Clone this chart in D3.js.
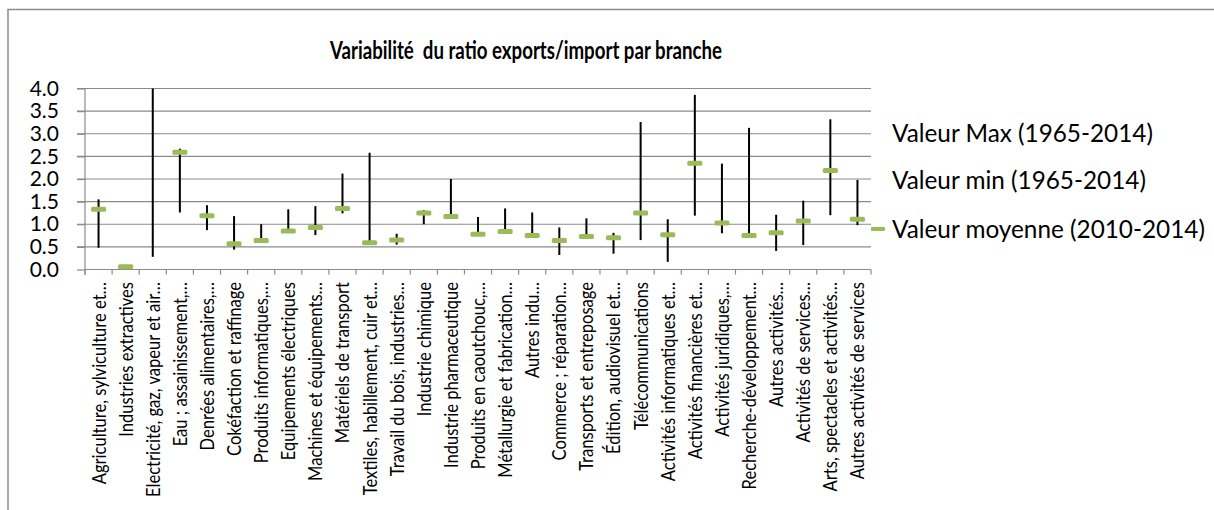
<!DOCTYPE html>
<html>
<head>
<meta charset="utf-8">
<script src="https://cdn.jsdelivr.net/npm/d3@7"></script>
<style>
  html, body { margin: 0; padding: 0; background: #ffffff; }
  svg { display: block; }
  text { font-family: Lato, "Open Sans", sans-serif; fill: #000; }
</style>
</head>
<body>
<svg id="chart" width="1214" height="510"></svg>
<script>
const categories = [
  "Agriculture, sylviculture et…",
  "Industries extractives",
  "Electricité, gaz, vapeur et air…",
  "Eau ; assainissement,…",
  "Denrées alimentaires,…",
  "Cokéfaction et raffinage",
  "Produits informatiques,…",
  "Equipements électriques",
  "Machines et équipements…",
  "Matériels de transport",
  "Textiles, habillement, cuir et…",
  "Travail du bois, industries…",
  "Industrie chimique",
  "Industrie pharmaceutique",
  "Produits en caoutchouc,…",
  "Métallurgie et fabrication…",
  "Autres indu…",
  "Commerce ; réparation…",
  "Transports et entreposage",
  "Édition, audiovisuel et…",
  "Télécommunications",
  "Activités informatiques et…",
  "Activités financières et…",
  "Activités juridiques,…",
  "Recherche-développement…",
  "Autres activités…",
  "Activités de services…",
  "Arts, spectacles et activités…",
  "Autres activités de services"
];
const maxVals  = [1.55, 0.08, 4.00, 2.67, 1.42, 1.18, 1.00, 1.33, 1.40, 2.12, 2.58, 0.79, 1.31, 2.00, 1.16, 1.35, 1.26, 0.93, 1.13, 0.81, 3.26, 1.11, 3.86, 2.34, 3.13, 1.21, 1.52, 3.32, 1.98];
const minVals  = [0.48, 0.04, 0.28, 1.26, 0.87, 0.44, 0.62, 0.84, 0.76, 1.24, 0.58, 0.55, 1.00, 1.15, 0.77, 0.82, 0.73, 0.32, 0.71, 0.35, 0.65, 0.17, 1.19, 0.80, 0.72, 0.41, 0.54, 1.20, 0.98];
const meanVals = [1.33, 0.06, null, 2.59, 1.19, 0.57, 0.64, 0.85, 0.93, 1.35, 0.59, 0.65, 1.25, 1.17, 0.78, 0.84, 0.75, 0.64, 0.73, 0.70, 1.25, 0.77, 2.35, 1.03, 0.75, 0.81, 1.07, 2.19, 1.11];
const yTicks = [0, 0.5, 1.0, 1.5, 2.0, 2.5, 3.0, 3.5, 4.0];
const legendLabels = ["Valeur Max (1965-2014)", "Valeur min (1965-2014)", "Valeur moyenne (2010-2014)"];
const titleText = "Variabilité  du ratio exports/import par branche";

const svg = d3.select("#chart");
const GREEN = "#9bbb59";
const GRID = "#8a8a8a";

// outer chart border
svg.append("rect")
  .attr("x", 8).attr("y", 9.5).attr("width", 1240).attr("height", 560)
  .attr("fill", "none").attr("stroke", "#8c8c8c").attr("stroke-width", 1.5);

const x = d3.scaleBand().domain(categories).range([85, 871]).paddingInner(0).paddingOuter(0);
const y = d3.scaleLinear().domain([0, 4]).range([269.5, 88.5]);

// gridlines
svg.append("g").selectAll("line").data(yTicks.filter(t => t > 0)).join("line")
  .attr("x1", 77).attr("x2", 871)
  .attr("y1", d => y(d)).attr("y2", d => y(d))
  .attr("stroke", GRID).attr("stroke-width", 1.2);

// y axis
const yAxis = svg.append("g").attr("transform", "translate(85,0)")
  .call(d3.axisLeft(y).tickValues(yTicks).tickFormat(d3.format(".1f")).tickSize(8).tickPadding(18));
yAxis.select(".domain").attr("stroke", GRID).attr("stroke-width", 1.2).attr("d", "M0,88.5V275");
yAxis.selectAll(".tick line").attr("stroke", GRID).attr("stroke-width", 1.2);
yAxis.selectAll(".tick text").attr("font-size", 21).attr("font-family", "Lato").attr("fill", "#000");

// x axis line and ticks at band boundaries
svg.append("line").attr("x1", 85).attr("x2", 871).attr("y1", y(0)).attr("y2", y(0))
  .attr("stroke", GRID).attr("stroke-width", 1.2);
const bounds = categories.map(c => x(c)).concat([x(categories[categories.length - 1]) + x.bandwidth()]);
svg.append("g").selectAll("line").data(bounds).join("line")
  .attr("x1", d => d).attr("x2", d => d).attr("y1", y(0)).attr("y2", y(0) + 5)
  .attr("stroke", GRID).attr("stroke-width", 1.2);

// category labels
const LAB_K = 1.2; // glyph height stretch
const labG = svg.append("g");
const labs = labG.selectAll("text").data(categories).join("text")
  .attr("transform", d => `translate(${x(d) + x.bandwidth() / 2},282) rotate(-90) scale(1,${LAB_K})`)
  .attr("text-anchor", "end").attr("dy", "0.35em")
  .attr("font-size", 15).text(d => d);
{
  const refs = {
    "Agriculture, sylviculture et…": 198,
    "Industries extractives": 161,
    "Electricité, gaz, vapeur et air…": 205,
    "Textiles, habillement, cuir et…": 213,
    "Autres activités de services": 205
  };
  let mw = 0, tw = 0;
  labs.each(function(d) { if (refs[d]) { mw += this.getComputedTextLength(); tw += refs[d]; } });
  labs.attr("font-size", 15 * tw / mw);
}

// high-low lines
const idx = d3.range(categories.length);
svg.append("g").selectAll("line").data(idx).join("line")
  .attr("x1", i => x(categories[i]) + x.bandwidth() / 2)
  .attr("x2", i => x(categories[i]) + x.bandwidth() / 2)
  .attr("y1", i => y(Math.min(maxVals[i], 4)))
  .attr("y2", i => y(minVals[i]))
  .attr("stroke", "#000").attr("stroke-width", 2);

// mean markers
svg.append("g").selectAll("rect").data(idx.filter(i => meanVals[i] != null)).join("rect")
  .attr("x", i => x(categories[i]) + x.bandwidth() / 2 - 7.5)
  .attr("y", i => y(meanVals[i]) - 2.5)
  .attr("width", 15).attr("height", 5).attr("rx", 1.5)
  .attr("fill", GREEN);

// title
const title = svg.append("text")
  .attr("transform", "translate(526,59) scale(1,1.3)")
  .attr("text-anchor", "middle").attr("xml:space", "preserve").style("white-space", "pre")
  .attr("font-weight", "bold").attr("font-size", 20).text(titleText);
{
  const w = title.node().getComputedTextLength();
  title.attr("font-size", 20 * 392 / w);
}

// legend
const legYs = [133, 180, 229];
const leg = svg.append("g").selectAll("text").data(legendLabels).join("text")
  .attr("x", 892).attr("y", (d, i) => legYs[i]).attr("dy", "0.35em")
  .attr("font-size", 18).text(d => d);
{
  const w = leg.filter((d, i) => i === 2).node().getComputedTextLength();
  leg.attr("font-size", 18 * 313 / w);
}
svg.append("rect").attr("x", 871).attr("y", 227).attr("width", 14).attr("height", 4).attr("rx", 1)
  .attr("fill", GREEN);
</script>
</body>
</html>
